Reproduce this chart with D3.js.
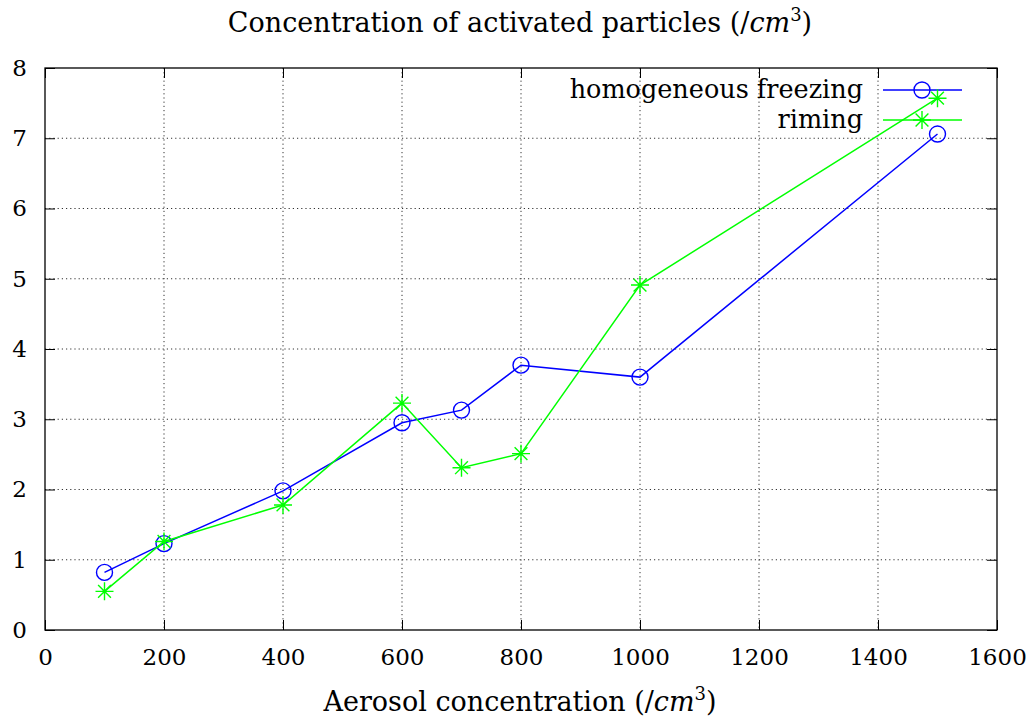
<!DOCTYPE html>
<html>
<head>
<meta charset="utf-8">
<script src="https://cdn.jsdelivr.net/npm/d3@7"></script>
<style>
  html, body { margin: 0; padding: 0; background: #fff; }
  svg text { font-family: "DejaVu Serif", serif; fill: #000; }
</style>
</head>
<body>
<svg id="chart" width="1035" height="721"></svg>
<script>
// Aerosol concentration (x) for each run
const aerosol = [100, 200, 400, 600, 700, 800, 1000, 1500];
// Activated particle concentration per mechanism
const homogeneousFreezing = [0.82, 1.23, 1.98, 2.95, 3.13, 3.77, 3.60, 7.06];
const riming = [0.55, 1.26, 1.78, 3.23, 2.31, 2.51, 4.91, 7.57];
const seriesNames = ["homogeneous freezing", "riming"];
const xTicks = [0, 200, 400, 600, 800, 1000, 1200, 1400, 1600];
const yTicks = [0, 1, 2, 3, 4, 5, 6, 7, 8];

const FONT = "'DejaVu Serif', serif";
const svg = d3.select("#chart");
const plotL = 45, plotR = 997, plotT = 68, plotB = 630;

const x = d3.scaleLinear().domain([0, 1600]).range([plotL, plotR]);
const y = d3.scaleLinear().domain([0, 8]).range([plotB, plotT]);

// dotted grid
const grid = svg.append("g").attr("stroke", "#333").attr("stroke-width", 1)
  .attr("stroke-dasharray", "1.2,3");
grid.selectAll("line.gx").data(xTicks.slice(1, -1)).join("line")
  .attr("x1", d => x(d)).attr("x2", d => x(d)).attr("y1", plotT).attr("y2", plotB);
grid.selectAll("line.gy").data(yTicks.slice(1, -1)).join("line")
  .attr("y1", d => y(d)).attr("y2", d => y(d)).attr("x1", plotL).attr("x2", plotR);

// axes with inward ticks on all four sides
const tickLen = 10;
const fs = 27;     // title and axis label
const lfs = 25.5;  // legend
const tfs = 23;    // tick labels
const fmt = d3.format("d");
const axB = svg.append("g").attr("transform", `translate(0,${plotB})`)
  .call(d3.axisBottom(x).tickValues(xTicks).tickFormat(fmt).tickSizeInner(-tickLen).tickSizeOuter(0).tickPadding(19));
const axT = svg.append("g").attr("transform", `translate(0,${plotT})`)
  .call(d3.axisTop(x).tickValues(xTicks).tickSizeInner(-tickLen).tickSizeOuter(0).tickFormat(""));
const axL = svg.append("g").attr("transform", `translate(${plotL},0)`)
  .call(d3.axisLeft(y).tickValues(yTicks).tickFormat(fmt).tickSizeInner(-tickLen).tickSizeOuter(0).tickPadding(18));
const axR = svg.append("g").attr("transform", `translate(${plotR},0)`)
  .call(d3.axisRight(y).tickValues(yTicks).tickSizeInner(-tickLen).tickSizeOuter(0).tickFormat(""));
[axB, axT, axL, axR].forEach(a => {
  a.attr("font-family", FONT).attr("font-size", tfs);
  a.select(".domain").remove();
  a.selectAll("line").attr("stroke", "#000").attr("stroke-width", 1);
  a.selectAll("text").style("font-family", FONT).style("font-size", tfs + "px");
});
axB.selectAll("text").attr("dy", "0.71em");

// frame
svg.append("rect").attr("x", plotL).attr("y", plotT).attr("width", plotR - plotL).attr("height", plotB - plotT)
  .attr("fill", "none").attr("stroke", "#000").attr("stroke-width", 1.3);

// titles with italic unit and superscript
function unitLabel(textSel, prefix) {
  textSel.append("tspan").text(prefix + " (/");
  textSel.append("tspan").style("font-style", "italic").text("cm");
  textSel.append("tspan").style("font-size", "18px").attr("dy", -11).text("3");
  textSel.append("tspan").attr("dy", 11).text(")");
}
const title = svg.append("text").attr("x", 520).attr("y", 32).attr("text-anchor", "middle")
  .style("font-family", FONT).style("font-size", fs + "px");
unitLabel(title, "Concentration of activated particles");

const xl = svg.append("text").attr("x", 520).attr("y", 711).attr("text-anchor", "middle")
  .style("font-family", FONT).style("font-size", fs + "px");
unitLabel(xl, "Aerosol concentration");

// markers
function circleMarker(g, cx, cy, color) {
  g.append("circle").attr("cx", cx).attr("cy", cy).attr("r", 8)
    .attr("fill", "none").attr("stroke", color).attr("stroke-width", 1.4);
}
function starMarker(g, cx, cy, color) {
  const s = 9, d = 6.4;
  const p = d3.path();
  p.moveTo(cx - s, cy); p.lineTo(cx + s, cy);
  p.moveTo(cx, cy - s); p.lineTo(cx, cy + s);
  p.moveTo(cx - d, cy - d); p.lineTo(cx + d, cy + d);
  p.moveTo(cx - d, cy + d); p.lineTo(cx + d, cy - d);
  g.append("path").attr("d", p.toString()).attr("stroke", color).attr("stroke-width", 1.4).attr("fill", "none");
}

const series = [
  { name: seriesNames[0], values: homogeneousFreezing, color: "#0000ff", marker: circleMarker },
  { name: seriesNames[1], values: riming, color: "#00ff00", marker: starMarker }
];

const line = d3.line().x(d => x(d[0])).y(d => y(d[1]));
series.forEach((s, i) => {
  const g = svg.append("g");
  const pts = aerosol.map((a, j) => [a, s.values[j]]);
  g.append("path").attr("d", line(pts)).attr("fill", "none").attr("stroke", s.color).attr("stroke-width", 1.5);
  pts.forEach(p => s.marker(g, x(p[0]), y(p[1]), s.color));

  // legend entry
  const ly = 90 + i * 30;
  svg.append("text").attr("x", 863).attr("y", ly + 8).attr("text-anchor", "end")
    .style("font-family", FONT).style("font-size", lfs + "px").text(s.name);
  svg.append("line").attr("x1", 883).attr("x2", 962).attr("y1", ly).attr("y2", ly)
    .attr("stroke", s.color).attr("stroke-width", 1.5);
  s.marker(svg, 922, ly, s.color);
});
</script>
</body>
</html>
